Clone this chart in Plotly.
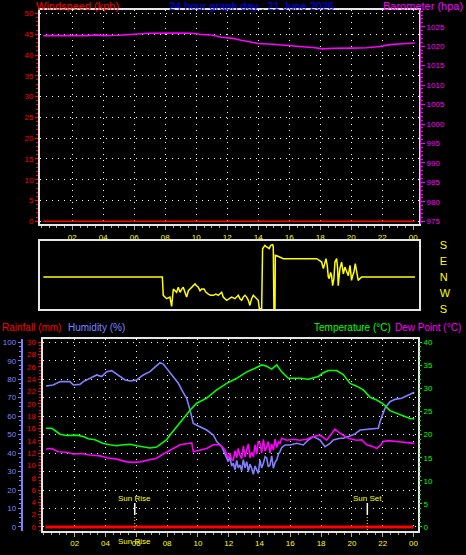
import plotly.graph_objects as go

# ---------------- data ----------------
hour_ticks = [2, 4, 6, 8, 10, 12, 14, 16, 18, 20, 22, 24]
hour_labels = ["02", "04", "06", "08", "10", "12", "14", "16", "18", "20", "22", "00"]

wind_hours = [0.13, 24.1]
wind_kph = [0, 0]

baro_hours = [0.13, 1.0, 2.0, 3.0, 3.57, 4.0, 5.0, 6.05, 7.0, 8.74, 9.7, 10.24, 11.08, 11.64,
              12.37, 12.82, 13.46, 13.98, 14.95, 16.24, 17.12, 17.66, 18.17, 18.82, 20.0,
              20.99, 21.85, 22.5, 23.34, 24.1]
baro_hpa = [1022.7, 1022.7, 1022.6, 1022.7, 1022.9, 1022.7, 1022.8, 1023.05, 1023.3, 1023.4,
            1023.3, 1023.05, 1022.8, 1022.3, 1022.0, 1021.6, 1021.1, 1020.7, 1020.5, 1020.1,
            1019.9, 1019.6, 1019.3, 1019.45, 1019.5, 1019.6, 1019.9, 1020.4, 1020.6, 1020.8]

dir_labels = ["S", "E", "N", "W", "S"]
dir_label_vals = [180, 90, 0, -90, -180]
dir_hours = [0.13, 7.81, 7.87, 8.09, 8.30, 8.41, 8.52, 8.73, 8.84, 8.95, 9.06, 9.16, 9.27, 9.38,
             9.49, 9.59, 9.77, 9.92, 10.02, 10.13, 10.24, 10.35, 10.50, 10.63, 10.78, 10.93,
             11.10, 11.27, 11.42, 11.53, 11.64, 11.74, 11.85, 11.96, 12.13, 12.28, 12.50,
             12.71, 12.82, 12.93, 13.03, 13.14, 13.25, 13.36, 13.46, 13.57, 13.68, 13.79,
             13.89, 14.00, 14.07, 14.22, 14.28, 14.43, 14.54, 14.71, 14.80, 14.93, 14.97,
             15.01, 15.08, 15.10, 15.23, 15.40, 15.62, 15.83, 16.26, 16.48, 16.69, 17.12,
             17.55, 17.77, 17.94, 18.09, 18.20, 18.30, 18.37, 18.45, 18.52, 18.58, 18.67,
             18.73, 18.80, 18.88, 18.95, 19.06, 19.12, 19.16, 19.23, 19.27, 19.38, 19.44,
             19.49, 19.59, 19.70, 19.81, 19.92, 20.02, 20.09, 20.17, 20.26, 20.35, 20.45,
             20.56, 20.67, 20.88, 24.11]
dir_deg = [0, 0, -103, -122, -113, -165, -68, -86, -58, -86, -68, -58, -86, -113, -77, -68,
           -49, -39, -49, -58, -77, -68, -68, -86, -96, -103, -103, -96, -103, -96, -86, -113,
           -122, -131, -122, -113, -122, -103, -122, -131, -113, -103, -113, -131, -160, -122,
           -103, -113, -122, -131, -178, -178, 159, 178, 169, 159, 178, 182, 169, -178, -178,
           122, 118, 112, 103, 103, 103, 99, 103, 103, 103, 103, 94, 84, 47, 84, 103, 66, 0,
           -9, 26, 7, -49, -9, 84, 103, 47, -49, 7, 47, 84, 56, 17, 56, 26, 7, 66, -19, 7,
           26, 75, 36, -19, -9, 0, 0, 0]

rain_hours = [0.1, 24.0]
rain_mm = [0.0, 0.0]

hum_hours = [0.14, 0.61, 1.05, 1.69, 1.91, 2.34, 2.56, 2.99, 3.43, 3.75, 4.08, 4.40, 4.83, 5.27,
             5.59, 6.03, 6.45, 6.89, 7.21, 7.54, 7.75, 7.97, 8.40, 8.73, 8.95, 9.27, 9.49,
             9.70, 10.03, 10.35, 10.57, 11.00, 11.22, 11.55, 11.76, 11.97, 12.08, 12.19,
             12.30, 12.41, 12.52, 12.62, 12.73, 12.84, 12.95, 13.06, 13.17, 13.28, 13.38,
             13.49, 13.60, 13.71, 13.82, 13.92, 14.03, 14.14, 14.25, 14.36, 14.47, 14.57,
             14.68, 14.79, 14.90, 15.01, 15.12, 15.23, 15.33, 15.44, 15.66, 15.98, 16.42,
             16.84, 17.17, 17.49, 17.93, 18.25, 18.58, 18.79, 19.23, 19.44, 19.88, 20.20,
             20.53, 20.96, 21.39, 21.71, 21.82, 21.94, 22.15, 22.47, 22.80, 23.23, 23.56,
             23.88, 24.05]
hum_pct = [76.3, 76.9, 78.7, 78.7, 76.9, 77.2, 78.7, 80.5, 82.3, 81.4, 84.1, 84.6, 82.3, 79.6,
           79.0, 79.6, 82.3, 84.1, 86.5, 89.0, 88.2, 85.9, 81.4, 77.8, 74.2, 69.7, 63.3, 56.1,
           54.7, 53.6, 52.5, 49.8, 46.2, 43.5, 39.9, 35.4, 38.0, 33.0, 34.5, 31.0, 36.0, 32.0,
           33.6, 30.5, 36.5, 32.0, 35.4, 30.0, 34.0, 31.8, 28.5, 33.0, 30.9, 29.0, 36.3, 32.0,
           34.5, 38.0, 37.2, 32.5, 33.6, 38.5, 31.8, 35.0, 36.3, 39.5, 40.8, 43.0, 44.4, 44.4,
           45.3, 44.4, 47.1, 48.9, 47.1, 43.5, 45.3, 47.1, 48.0, 48.0, 49.3, 50.4, 52.5, 52.9,
           53.4, 53.4, 57.0, 59.7, 64.3, 67.8, 69.1, 69.7, 70.9, 72.0, 72.9]

temp_hours = [0.14, 0.51, 0.72, 1.05, 1.48, 2.13, 2.56, 2.88, 3.32, 3.86, 4.29, 4.73, 5.16, 5.59,
              6.03, 6.45, 6.89, 7.32, 7.65, 7.97, 8.19, 8.62, 9.05, 9.49, 9.92, 10.57, 11.22,
              11.87, 12.52, 13.17, 13.71, 14.14, 14.47, 14.79, 15.12, 15.44, 15.87, 16.63,
              17.17, 17.82, 18.14, 18.47, 19.01, 19.44, 19.88, 20.31, 20.74, 21.18, 21.61,
              22.04, 22.47, 22.91, 23.34, 23.77, 24.05]
temp_c = [21.4, 21.4, 20.9, 20.1, 19.8, 19.9, 19.6, 19.1, 18.9, 18.1, 17.8, 17.6, 17.8, 17.9,
          17.6, 17.3, 17.1, 17.3, 18.1, 18.9, 19.9, 21.7, 23.5, 25.3, 26.8, 27.9, 29.7, 31.1,
          32.2, 33.6, 34.4, 35.1, 34.8, 34.2, 35.1, 33.6, 32.2, 32.2, 32.0, 32.6, 33.4, 33.9,
          33.9, 33.0, 31.1, 30.5, 29.7, 28.1, 27.5, 26.6, 25.2, 24.6, 24.0, 23.5, 23.4]

dew_hours = [0.14, 0.51, 0.94, 1.48, 1.91, 2.45, 2.99, 3.64, 4.08, 4.73, 5.38, 5.81, 6.24, 6.89,
             7.32, 7.75, 8.19, 8.40, 8.84, 9.27, 9.60, 9.70, 10.14, 10.57, 11.00, 11.44, 11.76,
             11.87, 11.97, 12.08, 12.19, 12.30, 12.41, 12.52, 12.62, 12.73, 12.84, 12.95,
             13.06, 13.17, 13.28, 13.38, 13.49, 13.60, 13.71, 13.82, 13.92, 14.03, 14.14,
             14.25, 14.36, 14.47, 14.57, 14.68, 14.79, 14.90, 15.01, 15.12, 15.23, 15.33,
             15.44, 15.77, 16.19, 16.63, 17.06, 17.49, 17.93, 18.36, 18.79, 18.90, 19.23,
             19.77, 20.31, 20.64, 20.96, 21.39, 21.61, 21.82, 22.04, 22.36, 22.91, 23.34,
             23.77, 24.05]
dew_c = [16.9, 17.0, 16.3, 16.2, 15.8, 15.9, 15.6, 15.4, 15.0, 14.7, 14.1, 14.0, 14.1, 14.5,
         14.9, 15.8, 16.7, 17.0, 17.8, 18.1, 18.2, 16.3, 16.7, 17.0, 17.8, 17.8, 16.7, 15.5,
         14.9, 16.0, 14.6, 14.5, 16.5, 15.0, 17.0, 15.6, 14.8, 17.5, 15.2, 16.7, 18.0, 15.0,
         16.2, 15.2, 17.8, 15.8, 18.6, 18.1, 16.0, 19.0, 16.5, 17.3, 18.5, 16.0, 18.0, 16.7,
         19.0, 17.2, 18.4, 18.1, 19.2, 18.8, 19.0, 18.8, 19.0, 19.6, 19.9, 18.8, 20.6, 21.2,
         20.3, 19.2, 18.8, 18.9, 17.8, 17.4, 17.0, 17.6, 18.5, 18.7, 18.5, 18.3, 18.1, 18.1]

sun_labels = ["Sun Rise", "Sun Set"]
sun_hours = [5.9, 21.0]

assert len(dir_hours) == len(dir_deg)
assert len(hum_hours) == len(hum_pct)
assert len(temp_hours) == len(temp_c)
assert len(dew_hours) == len(dew_c)

# ---------------- style ----------------
FONT = "Liberation Sans, Arial, sans-serif"
W, H = 466, 555
RED, MAG, YEL, BLUE = "#ff0000", "#ff00ff", "#ffff00", "#0000ff"
LAV, GRN = "#8080ff", "#00ff00"
FRAME = "#e6e6e6"
TICKG = "#a8a8a8"
GRID = dict(showgrid=True, gridcolor="#ffffff", gridwidth=1, griddash="1px,5px")


def px(xp):
    return xp / W


def py(yp):
    return 1 - yp / H


top_dom_x = [px(40), px(418.5)]
bot_dom_x = [px(42.5), px(418)]

fig = go.Figure()
fig.add_trace(go.Scatter(x=wind_hours, y=wind_kph, xaxis="x", yaxis="y", mode="lines",
                         line=dict(color=RED, width=1.5)))
fig.add_trace(go.Scatter(x=baro_hours, y=baro_hpa, xaxis="x", yaxis="y2", mode="lines",
                         line=dict(color=MAG, width=1.6)))
fig.add_trace(go.Scatter(x=dir_hours, y=dir_deg, xaxis="x2", yaxis="y3", mode="lines",
                         line=dict(color=YEL, width=1.5)))
fig.add_trace(go.Scatter(x=rain_hours, y=rain_mm, xaxis="x3", yaxis="y4", mode="lines",
                         line=dict(color=RED, width=3)))
fig.add_trace(go.Scatter(x=hum_hours, y=hum_pct, xaxis="x3", yaxis="y5", mode="lines",
                         line=dict(color=LAV, width=1.6)))
fig.add_trace(go.Scatter(x=temp_hours, y=temp_c, xaxis="x3", yaxis="y6", mode="lines",
                         line=dict(color=GRN, width=1.6)))
fig.add_trace(go.Scatter(x=dew_hours, y=dew_c, xaxis="x3", yaxis="y6", mode="lines",
                         line=dict(color=MAG, width=1.6)))

xtick_common = dict(tickmode="array", tickvals=hour_ticks, ticktext=hour_labels,
                    tickfont=dict(family=FONT, size=8, color=YEL), ticks="outside",
                    ticklen=4, tickcolor=TICKG, tickwidth=1, automargin=False,
                    minor=dict(ticks="outside", ticklen=2, tickcolor=TICKG, tick0=0, dtick=0.5),
                    showline=True, linecolor=FRAME, linewidth=2, mirror=True, zeroline=False)

fig.update_layout(
    width=W, height=H, autosize=False,
    margin=dict(l=0, r=0, t=0, b=0, autoexpand=False),
    paper_bgcolor="#000000", plot_bgcolor="#000000",
    showlegend=False, hovermode=False,
    xaxis=dict(domain=top_dom_x, anchor="y", range=[-0.084, 24.34], **xtick_common, **GRID),
    yaxis=dict(domain=[py(224), py(10)], anchor="x", range=[-0.65, 50.84], automargin=False,
               tickmode="linear", tick0=0, dtick=5,
               tickfont=dict(family=FONT, size=8, color=RED), ticks="outside", ticklen=3,
               tickcolor=RED, minor=dict(ticks="outside", ticklen=2, tickcolor=RED, dtick=1),
               showline=True, linecolor=FRAME, linewidth=2, mirror=True, zeroline=False, **GRID),
    yaxis2=dict(overlaying="y", side="right", anchor="free", position=px(420), automargin=False,
                range=[974.31, 1029.29], tickmode="linear", tick0=975, dtick=5,
                tickfont=dict(family=FONT, size=8, color=MAG), ticks="outside", ticklen=4,
                tickcolor=MAG, minor=dict(ticks="outside", ticklen=2, tickcolor=MAG, dtick=1),
                showline=True, linecolor=MAG, linewidth=1, showgrid=False, zeroline=False),
    xaxis2=dict(domain=top_dom_x, anchor="y3", range=[-0.084, 24.34], showticklabels=False,
                ticks="", showgrid=False, showline=True, linecolor=FRAME, linewidth=2,
                mirror=True, zeroline=False, automargin=False),
    yaxis3=dict(domain=[py(309.3), py(241.3)], anchor="x2", range=[-181.7, 200.8], side="right",
                tickmode="array", tickvals=dir_label_vals, ticktext=dir_labels, automargin=False,
                tickfont=dict(family=FONT, size=11, color=YEL), ticks="",
                ticklabelstandoff=17, showgrid=False, showline=True, linecolor=FRAME,
                linewidth=2, mirror=True, zeroline=False),
    xaxis3=dict(domain=bot_dom_x, anchor="y4", range=[-0.09, 24.29], **xtick_common, **GRID),
    yaxis4=dict(domain=[py(530.5), py(339.3)], anchor="x3", range=[-0.57, 30.49],
                tickmode="linear", tick0=0, dtick=2, automargin=False,
                tickfont=dict(family=FONT, size=8, color=RED), ticks="outside", ticklen=3,
                tickcolor=RED, minor=dict(ticks="outside", ticklen=2, tickcolor=RED, dtick=0.5),
                showline=True, linecolor=FRAME, linewidth=2, mirror=True, showgrid=False,
                zeroline=False),
    yaxis5=dict(overlaying="y4", side="left", anchor="free", position=px(21.7), automargin=False,
                range=[-1.9, 101.6], tickmode="linear", tick0=0, dtick=10,
                tickfont=dict(family=FONT, size=8, color=LAV), ticks="outside", ticklen=3,
                tickcolor=LAV, minor=dict(ticks="outside", ticklen=2, tickcolor=LAV, dtick=2.5),
                showline=True, linecolor=LAV, linewidth=2, zeroline=False, **GRID),
    yaxis6=dict(overlaying="y4", side="right", anchor="x3", range=[-0.76, 40.65],
                tickmode="linear", tick0=0, dtick=5, automargin=False,
                tickfont=dict(family=FONT, size=8, color=GRN), ticks="outside", ticklen=3,
                tickcolor=GRN, minor=dict(ticks="outside", ticklen=2, tickcolor=GRN, dtick=1),
                showline=False, showgrid=False, zeroline=False),
)

ann = []


def label(text, x, y, color, size, xanchor="left", xref="paper", yref="paper"):
    ann.append(dict(text=text, x=x, y=y, xref=xref, yref=yref, xanchor=xanchor,
                    yanchor="middle", showarrow=False,
                    font=dict(family=FONT, size=size, color=color)))


label("Windspeed (kph)", px(34), py(6), RED, 11)
label("24 hour graph day : 21 June 2026", px(251.5), py(6), BLUE, 11, xanchor="center")
label("Barometer (hpa)", px(465), py(6), MAG, 11, xanchor="right")
label("Rainfall (mm)", px(0), py(327), RED, 10)
label("Humidity (%)", px(66), py(327), LAV, 10)
label("Temperature (°C)", px(393), py(327), GRN, 10, xanchor="right")
label("Dew Point (°C)", px(393), py(327), MAG, 10)

shapes = []
for name, hr in zip(sun_labels, sun_hours):
    label(name, hr, 4.7, YEL, 8, xanchor="center", xref="x3", yref="y4")
    shapes.append(dict(type="line", xref="x3", yref="y4", x0=hr, x1=hr, y0=1.95, y1=3.9,
                       line=dict(color="#ffffff", width=1.5)))
    shapes.append(dict(type="line", xref="x3", yref="y4", x0=hr, x1=hr, y0=-0.5, y1=1.95,
                       line=dict(color=YEL, width=1, dash="1px,2px")))
label(sun_labels[0], sun_hours[0], py(541), YEL, 8, xanchor="center", xref="x3")

fig.update_layout(annotations=ann, shapes=shapes)
fig.write_html(
    "out.html",
    config={"displayModeBar": False, "staticPlot": True},
    post_script=(
        "var h=document.documentElement,b=document.body;"
        "h.style.margin='0';h.style.padding='0';h.style.overflow='hidden';"
        "b.style.margin='0';b.style.padding='0';b.style.overflow='hidden';"
        "b.style.background='#000';"
    ),
)
